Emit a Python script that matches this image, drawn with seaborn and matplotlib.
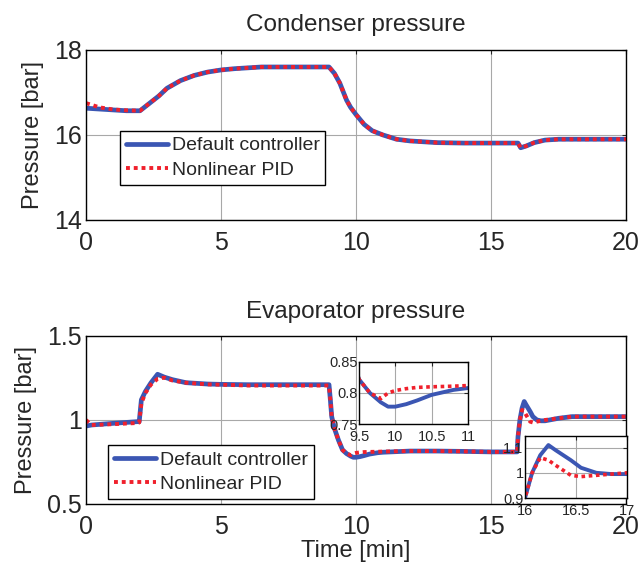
import numpy as np
import pandas as pd
import matplotlib
matplotlib.use("Agg")
import matplotlib.pyplot as plt
import seaborn as sns

# Condenser pressure [bar]
t_cond = [0, 0.5, 1, 1.5, 2, 2.3, 2.7, 3, 3.5, 4, 4.5, 5, 5.5, 6, 6.5, 7, 8, 9, 9.2, 9.4, 9.65, 9.8, 10, 10.3, 10.6, 11, 11.5, 12, 13, 14, 15, 16, 16.1, 16.3, 16.6, 17, 17.5, 18, 19, 20]
p_cond_default = [16.63, 16.61, 16.59, 16.57, 16.57, 16.72, 16.92, 17.1, 17.28, 17.4, 17.48, 17.53, 17.56, 17.58, 17.6, 17.6, 17.6, 17.6, 17.45, 17.22, 16.82, 16.65, 16.48, 16.25, 16.1, 16.0, 15.9, 15.86, 15.82, 15.81, 15.81, 15.81, 15.7, 15.74, 15.82, 15.88, 15.9, 15.9, 15.9, 15.9]
p_cond_pid = [16.75, 16.65, 16.6, 16.58, 16.57, 16.72, 16.92, 17.1, 17.28, 17.4, 17.48, 17.53, 17.56, 17.58, 17.6, 17.6, 17.6, 17.6, 17.45, 17.22, 16.82, 16.65, 16.48, 16.25, 16.1, 16.0, 15.9, 15.86, 15.82, 15.81, 15.81, 15.81, 15.7, 15.74, 15.82, 15.88, 15.9, 15.9, 15.9, 15.9]

# Evaporator pressure [bar]
t_evap = [0, 0.2, 1, 1.9, 1.97, 2.05, 2.2, 2.4, 2.65, 2.9, 3.2, 3.7, 4.5, 5, 6, 7, 8, 9, 9.05, 9.1, 9.2, 9.35, 9.5, 9.65, 9.8, 9.9, 10, 10.15, 10.3, 10.5, 10.8, 11, 12, 13, 14, 15, 15.97, 16, 16.07, 16.15, 16.23, 16.3, 16.45, 16.55, 16.7, 16.85, 17, 17.5, 18, 19, 20]
p_evap_default = [0.964, 0.97, 0.98, 0.99, 0.99, 1.12, 1.17, 1.22, 1.272, 1.255, 1.24, 1.222, 1.214, 1.212, 1.21, 1.21, 1.21, 1.21, 1.12, 1.02, 0.95, 0.88, 0.822, 0.80, 0.785, 0.778, 0.778, 0.782, 0.788, 0.797, 0.805, 0.808, 0.815, 0.815, 0.813, 0.81, 0.81, 0.9, 1.0, 1.07, 1.11, 1.09, 1.05, 1.02, 1.0, 0.995, 0.995, 1.01, 1.02, 1.02, 1.02]
p_evap_pid = [1.0, 0.97, 0.975, 0.982, 0.985, 1.1, 1.16, 1.21, 1.245, 1.252, 1.235, 1.222, 1.212, 1.21, 1.205, 1.205, 1.205, 1.205, 1.12, 1.02, 0.95, 0.88, 0.822, 0.80, 0.791, 0.80, 0.804, 0.807, 0.809, 0.81, 0.811, 0.812, 0.815, 0.815, 0.813, 0.81, 0.81, 0.9, 1.0, 1.06, 1.05, 1.03, 0.99, 0.985, 0.99, 0.995, 1.0, 1.01, 1.02, 1.02, 1.02]

series_names = ["Default controller", "Nonlinear PID"]
line_colors = ["#3b56b3", "#f0202c"]

cond = pd.DataFrame({"t": t_cond * 2,
                     "p": p_cond_default + p_cond_pid,
                     "s": [series_names[0]] * len(t_cond) + [series_names[1]] * len(t_cond)})
evap = pd.DataFrame({"t": t_evap * 2,
                     "p": p_evap_default + p_evap_pid,
                     "s": [series_names[0]] * len(t_evap) + [series_names[1]] * len(t_evap)})

sns.set_style("white")
plt.rcParams["font.family"] = ["Liberation Sans", "DejaVu Sans"]

fig = plt.figure(figsize=(6.41, 5.68), dpi=100)


def draw(ax, df, lw=(3.4, 2.8)):
    sns.lineplot(data=df[df.s == series_names[0]], x="t", y="p", ax=ax,
                 color=line_colors[0], lw=lw[0], label=series_names[0], legend=False)
    sns.lineplot(data=df[df.s == series_names[1]], x="t", y="p", ax=ax,
                 color=line_colors[1], lw=lw[1], ls=(0, (1, 1)), label=series_names[1], legend=False)


def style(ax, size, xpad, ypad):
    ax.grid(True, color="#a8a8a8", lw=0.8)
    ax.tick_params(direction="in", top=True, right=True, labelsize=size, length=3, width=0.8)
    ax.tick_params(axis="x", pad=xpad)
    ax.tick_params(axis="y", pad=ypad)
    for s in ax.spines.values():
        s.set_color("black")
        s.set_linewidth(1.0)
    ax.set_xlabel("")
    ax.set_ylabel("")


def add_legend(ax, loc, anchor):
    leg = ax.legend(loc=loc, bbox_to_anchor=anchor, borderaxespad=0, fontsize=14, frameon=True,
                    fancybox=False, edgecolor="black", handlelength=2.15, borderpad=0.3,
                    labelspacing=0.35, handletextpad=0.2, framealpha=1)
    leg.get_frame().set_linewidth(1.0)


# Condenser pressure panel
ax1 = fig.add_axes([0.1342, 0.6127, 0.8424, 0.2993])
draw(ax1, cond)
ax1.set_xlim(0, 20)
ax1.set_ylim(14, 18)
ax1.set_xticks([0, 5, 10, 15, 20])
ax1.set_yticks([14, 16, 18])
style(ax1, 18, 8, 3)
ax1.set_title("Condenser pressure", fontsize=17.5, pad=14)
ax1.set_ylabel("Pressure [bar]", fontsize=17, labelpad=7)
add_legend(ax1, "upper left", (0.063, 0.524))

# Evaporator pressure panel
ax2 = fig.add_axes([0.1342, 0.1127, 0.8424, 0.2958])
draw(ax2, evap)
ax2.set_xlim(0, 20)
ax2.set_ylim(0.5, 1.5)
ax2.set_xticks([0, 5, 10, 15, 20])
ax2.set_yticks([0.5, 1, 1.5])
ax2.set_yticklabels(["0.5", "1", "1.5"])
style(ax2, 18, 8, 3)
ax2.set_title("Evaporator pressure", fontsize=17.5, pad=13)
ax2.set_ylabel("Pressure [bar]", fontsize=17, labelpad=7)
ax2.set_xlabel("Time [min]", fontsize=17, labelpad=1)
add_legend(ax2, "lower left", (0.041, 0.03))

# Zoomed views of the two transients
ins1 = fig.add_axes([0.5601, 0.2535, 0.170, 0.1092])
ins1.set_facecolor("white")
draw(ins1, evap, lw=(2.8, 2.6))
ins1.set_xlim(9.5, 11)
ins1.set_ylim(0.75, 0.85)
ins1.set_xticks([9.5, 10, 10.5, 11])
ins1.set_xticklabels(["9.5", "10", "10.5", "11"])
ins1.set_yticks([0.75, 0.8, 0.85])
ins1.set_yticklabels(["0.75", "0.8", "0.85"])
style(ins1, 10.5, 4, 1)

ins2 = fig.add_axes([0.819, 0.1232, 0.159, 0.1092])
ins2.set_facecolor("white")
draw(ins2, evap, lw=(2.8, 2.6))
ins2.set_xlim(16, 17)
ins2.set_ylim(0.9, 1.146)
ins2.set_xticks([16, 16.5, 17])
ins2.set_xticklabels(["16", "16.5", "17"])
ins2.set_yticks([0.9, 1.0, 1.1])
ins2.set_yticklabels(["0.9", "1", "1.1"])
style(ins2, 10.5, 4, 1)

fig.savefig("out.png", dpi=100)
